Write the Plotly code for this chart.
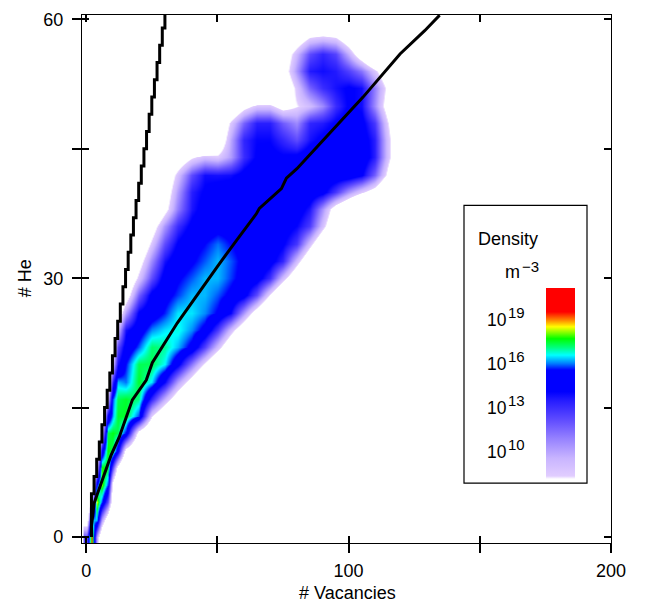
import plotly.graph_objects as go

# Grid of the density map: number of vacancies and number of helium atoms
vacancies = [0, 2, 4, 6, 8, 10, 12, 15, 20, 25, 30, 35, 40, 45, 50, 55, 60, 65, 70, 75, 80, 85, 90, 95, 100, 105, 110, 115, 120]
helium = [60, 58, 56, 54, 52, 50, 48, 46, 44, 42, 40, 38, 36, 34, 32, 30, 28, 26, 24, 22, 20, 18, 16, 14, 12, 10, 8, 6, 4, 2, 0]

# log10(density); each row: first column index, then the read values (elsewhere: empty)
EMPTY = 1
density_rows = [
    (21, [3, 3.5, 3]),
    (18, [1.5, 3.5, 6, 8, 8.4, 8, 6, 3.5, 1.5]),
    (18, [2.8, 6, 9.2, 12, 13, 12.2, 9.5, 6.2, 3]),
    (18, [3.3, 6.6, 10.2, 13.3, 13.6, 13.3, 12.3, 11, 8.6, 5.8]),
    (18, [2.5, 5.5, 8.6, 11.4, 12.8, 13.5, 14, 13.6, 10.8, 7.5, 3.8]),
    (14, [2, 4.8, 7.2, 8.6, 8.6, 7, 8, 9, 10.5, 12.8, 14, 13.6, 10.5, 6.8, 3.5]),
    (13, [1.5, 4.5, 8.5, 11.4, 13.2, 13.2, 11.6, 10.5, 13, 13.3, 14, 14.5, 14.2, 12.5, 8.2, 4.5]),
    (13, [2, 5.5, 9.7, 13, 13.8, 13.8, 13, 12, 13.5, 14.2, 14.6, 14.8, 14.5, 13.2, 8.8, 5]),
    (9, [1.5, 3.3, 5.8, 7.8, 8.8, 8.4, 10, 12.8, 14, 14.2, 14, 14.2, 14.8, 15, 15, 15, 14.8, 13.2, 8.8, 5]),
    (9, [2.5, 5.5, 8.8, 12, 13.6, 13.5, 13.6, 14.3, 15, 15, 14.8, 14.8, 14.8, 14.8, 14.8, 14.8, 14, 11.5, 7.5, 3]),
    (9, [3, 6.3, 10, 13.2, 14, 14.4, 14.6, 15, 15, 15, 15, 15, 14.8, 14.3, 12.5, 10.2, 8.4, 6.8, 3.7]),
    (8, [1, 3.5, 7.2, 10.8, 13.4, 14.4, 14.8, 15, 15, 15, 15, 15, 14.6, 13.4, 10.2, 6.6, 4.4, 1.5]),
    (8, [3, 6.6, 10.2, 12.8, 14.2, 14.8, 15, 15, 15.2, 15.2, 15, 14.6, 13.8, 12.4, 8.8, 5.2, 1.5]),
    (7, [1.5, 5, 8.6, 12, 14, 15, 15.3, 15.7, 15.3, 15, 15, 14.8, 14, 12.5, 8.8, 5.2, 1.5]),
    (7, [3.2, 6.9, 10.5, 13.5, 14.8, 15.2, 15.6, 16, 15.6, 15.1, 15, 14.4, 13, 9, 5.4, 1.7]),
    (7, [4.9, 8.6, 12, 14.5, 15.2, 15.6, 16, 16, 15.5, 15, 14.5, 12.8, 9, 5.5, 1.8]),
    (6, [3.5, 6.5, 11.5, 14.3, 15, 15.5, 16, 16, 15.6, 15.1, 14.4, 12, 8, 4.4]),
    (5, [3, 6, 10, 14, 14.8, 15.4, 16.2, 16.2, 15.8, 15.2, 13.8, 10.2, 6.6, 3]),
    (4, [3, 5.5, 9, 13.5, 14.8, 15.8, 16.2, 16.4, 15.8, 15, 12.5, 9, 5.8, 2.5]),
    (4, [4, 6.5, 12, 14.5, 15.6, 16.9, 16.7, 16, 15, 12.3, 9, 5.5, 2.3]),
    (3, [3, 5, 9, 13.5, 15.3, 17, 17, 16.3, 14.3, 11, 7.8, 4.5]),
    (3, [4, 6, 13, 16, 15.7, 17.2, 16.2, 13.8, 10, 6.8, 3.5]),
    (2, [3, 4, 9, 15.5, 17, 17.2, 16.8, 13, 9.5, 6.2, 3]),
    (2, [3, 5, 14, 15.9, 17.2, 17.2, 15.5, 8.2, 5, 1.8]),
    (1, [3, 4, 9, 17, 17.3, 17, 15.2, 7, 3.8]),
    (1, [3, 5, 14, 17.4, 17, 14.5, 7, 3.8]),
    (1, [3, 9, 17.5, 17.2, 12, 7, 3]),
    (1, [5, 15, 17.8, 15.5, 7, 4]),
    (0, [3, 9, 18.2, 15.5, 12, 6, 2]),
    (0, [6, 16, 16, 10, 6, 2]),
    (0, [12, 19, 10, 5]),
]

# Steep stepped curve
steep_v = [2, 2, 3, 4, 5, 6, 7, 8, 9, 10, 11, 12, 13, 14, 15, 16, 17, 18, 19, 20, 21, 22, 23, 24, 25, 26, 27, 28, 29, 30]
steep_he = [0, 5, 7, 9, 11, 13, 15, 17, 19, 21, 23, 25, 27, 29, 31, 33, 35, 37, 39, 41, 43, 45, 47, 49, 51, 53, 55, 57, 59, 61]

# Lower smooth curve
curve_v = [2, 2, 3, 6.1, 9.5, 12.6, 17.6, 22.9, 25.2, 34.7, 43.9, 50.8, 57.3, 64.9, 66, 74.4, 76.3, 80.3, 90.3, 97.9, 105.5, 119.6, 129, 134.7]
curve_he = [0, 1.2, 3.9, 6.6, 9.5, 11.6, 15.9, 18.2, 20.2, 24.8, 28.8, 31.7, 34.4, 37.5, 38.1, 40.4, 41.6, 42.7, 46, 48.5, 51, 56, 58.7, 60.5]

x_ticks = [0, 50, 100, 150, 200]
x_tick_text = ["0", "", "100", "", "200"]
y_ticks = [0, 15, 30, 45, 60]
y_tick_text = ["0", "", "30", "", "60"]

legend_exponents = ["19", "16", "13", "10"]

# Colour stops: log10 density -> colour
stop_z = [8.0, 8.2, 9.4, 10.7, 11.85, 13.2, 13.85, 15.3, 15.75, 16.3, 16.8, 17.4, 18.2, 18.67, 19.2, 20.8]
stop_c = ["#ffffff", "#e1cdff", "#c8b4ff", "#9682ff", "#6450ff", "#281eff", "#0000ff", "#0000ff", "#0080ff",
          "#00ffff", "#00ff80", "#00ff00", "#ffff00", "#ff8000", "#ff0000", "#ff0000"]
Z0, Z1 = stop_z[0], stop_z[-1]
colorscale = [[(z - Z0) / (Z1 - Z0), c] for z, c in zip(stop_z, stop_c)]

n_cols = len(vacancies)
density = []
for start, vals in density_rows:
    density.append([EMPTY] * start + vals + [EMPTY] * (n_cols - start - len(vals)))

# Plot frame in pixels
L, R, T, B = 82, 611, 14.5, 543
W, H = 646, 604
def px(x): return (x - L) / (R - L)
def py(y): return (B - y) / (B - T)

x_range = [-1.6, 200]
y_range = [-0.7, 60.52]

fig = go.Figure()
fig.add_trace(go.Heatmap(
    x=vacancies, y=helium[::-1], z=density[::-1], zsmooth="best",
    zmin=Z0, zmax=Z1, colorscale=colorscale, hoverinfo="skip",
    colorbar=dict(
        x=px(546), xanchor="left", y=py(288), yanchor="top",
        lenmode="pixels", len=479 - 288, thicknessmode="pixels", thickness=29,
        xpad=0, ypad=0, outlinewidth=0, ticks="", showticklabels=False,
    ),
))
line = dict(color="black", width=3)
fig.add_trace(go.Scatter(x=steep_v, y=steep_he, mode="lines", line=dict(shape="hv", **line), showlegend=False))
fig.add_trace(go.Scatter(x=curve_v, y=curve_he, mode="lines", line=line, showlegend=False))
fig.add_trace(go.Scatter(x=[None], y=[None], xaxis="x2", yaxis="y2", showlegend=False))

font = dict(family="Liberation Sans, Arial, sans-serif", size=18, color="black")
common = dict(showgrid=False, zeroline=False, showline=True, linecolor="black", linewidth=1.3, mirror=True,
              tickcolor="black", tickwidth=1.5, tickfont=font, automargin=False)
overlay = dict(showgrid=False, zeroline=False, showline=False, showticklabels=False, ticks="inside",
               tickcolor="black", tickwidth=1.5, mirror="ticks", automargin=False)

annotations = []
def label(text, x, y, size, anchor="left", angle=0):
    annotations.append(dict(text=text, xref="paper", yref="paper", x=px(x), y=py(y), xanchor=anchor, yanchor="middle",
                            showarrow=False, font=dict(family=font["family"], size=size, color="black"),
                            borderpad=0, borderwidth=0, textangle=angle))
label("Density", 478, 239, 18)
label("m", 505, 272, 18)
label("\u22123", 522, 266, 15)
for e, y10 in zip(legend_exponents, [320, 364, 408, 452]):
    label("10", 487, y10, 17.5)
    label(e, 508, y10 - 8, 15)
label("# Vacancies", 347, 593, 18, anchor="center")
label("# He", 25, 278, 18, anchor="center", angle=-90)

fig.update_layout(
    width=W, height=H, autosize=False,
    margin=dict(l=L, r=W - R, t=T, b=H - B, pad=0),
    paper_bgcolor="white", plot_bgcolor="white", showlegend=False, font=font,
    xaxis=dict(range=x_range, tickmode="array", tickvals=x_ticks, ticktext=x_tick_text, ticks="outside", ticklen=9,
               ticklabelstandoff=2, **common),
    yaxis=dict(range=y_range, tickmode="array", tickvals=y_ticks, ticktext=y_tick_text, ticks="outside", ticklen=9,
               ticklabelstandoff=5, **common),
    xaxis2=dict(overlaying="x", anchor="y2", range=x_range, tickmode="array", tickvals=x_ticks, ticklen=7, **overlay),
    yaxis2=dict(overlaying="y", anchor="x2", range=y_range, tickmode="array", tickvals=y_ticks, ticklen=7, **overlay),
    shapes=[dict(type="rect", xref="paper", yref="paper", x0=px(464), x1=px(587), y0=py(483), y1=py(205),
                 line=dict(color="black", width=1.2), fillcolor="white", layer="below")],
    annotations=annotations,
)

fig.write_html("out.html", config={"displayModeBar": False},
               post_script="document.body.style.margin='0';document.body.style.overflow='hidden';")
